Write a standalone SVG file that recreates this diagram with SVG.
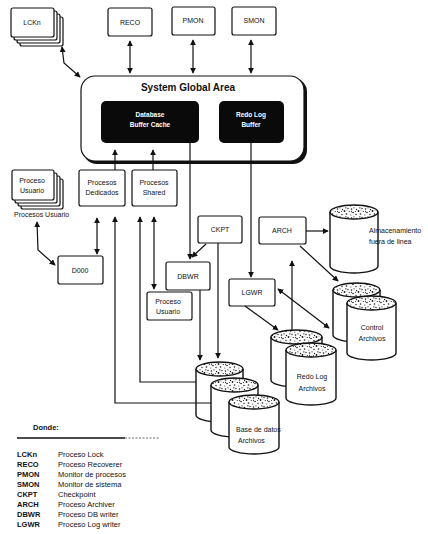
<svg xmlns="http://www.w3.org/2000/svg" width="428" height="534" viewBox="0 0 428 534">
  <defs>
    <style>
      .box { fill: #fff; stroke: #111; stroke-width: 1.2; }
      .shadow { fill: #111; }
      .dark { fill: #0a0a0a; }
      .lbl { font-family: "Liberation Sans", Arial, sans-serif; font-size: 7px; fill: #111; text-anchor: middle; }
      .lft { text-anchor: start; }
      .wlbl { font-family: "Liberation Sans", Arial, sans-serif; font-size: 6.5px; font-weight: bold; fill: #fff; text-anchor: middle; }
      .title { font-family: "Liberation Sans", Arial, sans-serif; font-size: 10px; font-weight: bold; fill: #111; text-anchor: middle; }
      .leg { font-family: "Liberation Sans", Arial, sans-serif; font-size: 7.5px; fill: #111; }
      .legb { font-family: "Liberation Sans", Arial, sans-serif; font-size: 7.5px; font-weight: bold; fill: #111; }
      .wire { fill: none; stroke: #111; stroke-width: 1.2; }
      .cyl { fill: #fff; stroke: #111; stroke-width: 1.4; }
      .top { fill: url(#speckle); stroke: #111; stroke-width: 1.4; }
    </style>
    <marker id="ah" viewBox="0 0 8 8" refX="7" refY="4" markerWidth="6" markerHeight="6" markerUnits="userSpaceOnUse" orient="auto-start-reverse">
      <path d="M0,0 L8,4 L0,8 z" fill="#111"/>
    </marker>
    <!-- stippled fill for the top faces of the disk cylinders -->
    <pattern id="speckle" width="14" height="9" patternUnits="userSpaceOnUse">
      <rect width="14" height="9" fill="#fff"/>
      <g fill="#1a1a1a">
        <circle cx="1.5" cy="2" r="0.8"/>
        <circle cx="4" cy="0.8" r="0.6"/>
        <circle cx="6.5" cy="2.5" r="0.7"/>
        <circle cx="8.5" cy="4" r="0.9"/>
        <circle cx="12" cy="1.5" r="0.7"/>
        <circle cx="3" cy="5.5" r="0.8"/>
        <circle cx="6" cy="7.5" r="0.7"/>
        <circle cx="10.5" cy="7" r="0.8"/>
        <circle cx="13.3" cy="4.5" r="0.6"/>
        <circle cx="5.5" cy="4.5" r="0.5"/>
        <circle cx="0.8" cy="8" r="0.5"/>
        <circle cx="11" cy="3.2" r="0.4"/>
        <rect x="9" y="0.5" width="1.6" height="0.8"/>
        <rect x="1" y="3.8" width="0.8" height="1.4"/>
      </g>
    </pattern>
  </defs>

  <rect width="428" height="534" fill="#fff"/>

  <!-- top row of background processes -->
  <g id="lckn">
    <rect class="box" x="20" y="17" width="43" height="29" rx="2"/>
    <rect class="box" x="17" y="14" width="43" height="29" rx="2"/>
    <rect class="box" x="14" y="11" width="43" height="29" rx="2"/>
    <rect class="box" x="11" y="8" width="43" height="29" rx="2"/>
    <text class="lbl" x="32" y="25">LCKn</text>
  </g>
  <g id="reco">
    <rect class="box" x="108" y="8" width="44" height="28" rx="2"/>
    <text class="lbl" x="130" y="25">RECO</text>
  </g>
  <g id="pmon">
    <rect class="box" x="172" y="7" width="43" height="28" rx="2"/>
    <text class="lbl" x="193" y="23">PMON</text>
  </g>
  <g id="smon">
    <rect class="box" x="232" y="7" width="44" height="28" rx="2"/>
    <text class="lbl" x="254" y="23">SMON</text>
  </g>

  <!-- System Global Area with its two buffers -->
  <g id="sga">
    <rect x="83" y="78" width="224" height="86" rx="14" class="shadow"/>
    <rect class="box" x="81" y="76" width="223" height="85" rx="14"/>
    <text class="title" x="188" y="91">System Global Area</text>
  </g>
  <g id="db-buffer-cache">
    <rect class="dark" x="101" y="101" width="98" height="42" rx="5"/>
    <text class="wlbl" x="150" y="117">Database</text>
    <text class="wlbl" x="150" y="127">Buffer Cache</text>
  </g>
  <g id="redo-log-buffer">
    <rect class="dark" x="219" y="101" width="65" height="42" rx="5"/>
    <text class="wlbl" x="251" y="117">Redo Log</text>
    <text class="wlbl" x="251" y="127">Buffer</text>
  </g>

  <!-- user and server processes -->
  <g id="proceso-usuario-stack">
    <rect class="box" x="21" y="179" width="42" height="30" rx="2"/>
    <rect class="box" x="18" y="176" width="42" height="30" rx="2"/>
    <rect class="box" x="15" y="173" width="42" height="30" rx="2"/>
    <rect class="box" x="12" y="170" width="42" height="30" rx="2"/>
    <text class="lbl" x="32" y="183">Proceso</text>
    <text class="lbl" x="32" y="193">Usuario</text>
    <text class="lbl lft" x="14" y="217">Procesos Usuario</text>
  </g>
  <g id="procesos-dedicados">
    <rect class="box" x="79" y="170" width="46" height="36" rx="2"/>
    <text class="lbl" x="102" y="185">Procesos</text>
    <text class="lbl" x="102" y="195">Dedicados</text>
  </g>
  <g id="procesos-shared">
    <rect class="box" x="132" y="170" width="45" height="36" rx="2"/>
    <text class="lbl" x="154" y="185">Procesos</text>
    <text class="lbl" x="154" y="195">Shared</text>
  </g>
  <g id="d000">
    <rect class="box" x="58" y="256" width="45" height="28" rx="2"/>
    <text class="lbl" x="80" y="273">D000</text>
  </g>
  <g id="ckpt">
    <rect class="box" x="198" y="216" width="44" height="27" rx="2"/>
    <text class="lbl" x="220" y="232">CKPT</text>
  </g>
  <g id="arch">
    <rect class="box" x="259" y="217" width="47" height="27" rx="2"/>
    <text class="lbl" x="282" y="233">ARCH</text>
  </g>
  <g id="dbwr">
    <rect class="box" x="166" y="262" width="44" height="28" rx="2"/>
    <text class="lbl" x="188" y="279">DBWR</text>
  </g>
  <g id="proceso-usuario">
    <rect class="box" x="147" y="292" width="45" height="28" rx="2"/>
    <text class="lbl" x="168" y="304">Proceso</text>
    <text class="lbl" x="168" y="314">Usuario</text>
  </g>
  <g id="lgwr">
    <rect class="box" x="229" y="279" width="46" height="27" rx="2"/>
    <text class="lbl" x="252" y="295">LGWR</text>
  </g>

  <!-- disk files -->
  <g id="almacenamiento">
    <path class="cyl" d="M330,212 L330,266 A24,7 0 0 0 378,266 L378,212"/>
    <ellipse class="top" cx="354" cy="212" rx="24" ry="7"/>
    <text class="lbl lft" x="369" y="233">Almacenamiento</text>
    <text class="lbl lft" x="369" y="244">fuera de linea</text>
  </g>
  <g id="control-archivos">
    <path class="cyl" d="M333,290 L333,335 A23.5,7 0 0 0 380,335 L380,290"/>
    <ellipse class="top" cx="356.5" cy="290" rx="23.5" ry="7"/>
    <path class="cyl" d="M347,303 L347,353 A24.5,7 0 0 0 396,353 L396,303"/>
    <ellipse class="top" cx="371.5" cy="303" rx="24.5" ry="7"/>
    <text class="lbl" x="372" y="330">Control</text>
    <text class="lbl" x="372" y="341">Archivos</text>
  </g>
  <g id="redo-log-archivos">
    <path class="cyl" d="M271,337 L271,380 A25.5,7 0 0 0 322,380 L322,337"/>
    <ellipse class="top" cx="296.5" cy="337" rx="25.5" ry="7"/>
    <path class="cyl" d="M286,350 L286,398 A25,7 0 0 0 336,398 L336,350"/>
    <ellipse class="top" cx="311" cy="350" rx="25" ry="7"/>
    <text class="lbl" x="312" y="379">Redo Log</text>
    <text class="lbl" x="312" y="391">Archivos</text>
  </g>
  <g id="base-de-datos-archivos">
    <path class="cyl" d="M196,369 L196,415 A23.5,7 0 0 0 243,415 L243,369"/>
    <ellipse class="top" cx="219.5" cy="369" rx="23.5" ry="7"/>
    <path class="cyl" d="M211,385 L211,430 A23.5,7 0 0 0 258,430 L258,385"/>
    <ellipse class="top" cx="234.5" cy="385" rx="23.5" ry="7"/>
    <path class="cyl" d="M229,402 L229,447 A25,7 0 0 0 279,447 L279,402"/>
    <ellipse class="top" cx="254" cy="402" rx="25" ry="7"/>
    <text class="lbl lft" x="236" y="432">Base de datos</text>
    <text class="lbl lft" x="238" y="443">Archivos</text>
  </g>

  <!-- connectors -->
  <g id="connectors">
    <path class="wire" d="M62,47 L64,63 L80,77" marker-start="url(#ah)" marker-end="url(#ah)"/>
    <path class="wire" d="M130,41 L130,73" marker-start="url(#ah)" marker-end="url(#ah)"/>
    <path class="wire" d="M193,40 L193,73" marker-start="url(#ah)" marker-end="url(#ah)"/>
    <path class="wire" d="M251,40 L251,73" marker-start="url(#ah)" marker-end="url(#ah)"/>
    <path class="wire" d="M115,170 L115,150" marker-end="url(#ah)"/>
    <path class="wire" d="M153,170 L153,150" marker-end="url(#ah)"/>
    <path class="wire" d="M190,143 L190,259" marker-end="url(#ah)"/>
    <path class="wire" d="M251,143 L251,277" marker-end="url(#ah)"/>
    <path class="wire" d="M37,222 L38,250 L55,265" marker-start="url(#ah)" marker-end="url(#ah)"/>
    <path class="wire" d="M97,218 L97,254" marker-start="url(#ah)" marker-end="url(#ah)"/>
    <path class="wire" d="M211,403 L115,403 L115,217" marker-end="url(#ah)"/>
    <path class="wire" d="M196,382 L140,382 L140,217" marker-end="url(#ah)"/>
    <path class="wire" d="M154,217 L154,289" marker-start="url(#ah)" marker-end="url(#ah)"/>
    <path class="wire" d="M206,244 L192,257" marker-end="url(#ah)"/>
    <path class="wire" d="M218,243 L218,358" marker-end="url(#ah)"/>
    <path class="wire" d="M200,290 L200,360" marker-end="url(#ah)"/>
    <path class="wire" d="M306,231 L328,231" marker-end="url(#ah)"/>
    <path class="wire" d="M300,246 L338,281" marker-end="url(#ah)"/>
    <path class="wire" d="M292,331 L292,261" marker-end="url(#ah)"/>
    <path class="wire" d="M278,289 L329,328" marker-start="url(#ah)" marker-end="url(#ah)"/>
    <path class="wire" d="M245,306 L278,330" marker-end="url(#ah)"/>
  </g>

  <!-- key -->
  <g id="legend">
    <text class="legb" x="33" y="430">Donde:</text>
    <line x1="17" y1="438" x2="125" y2="438" stroke="#111" stroke-width="1.5"/>
    <line x1="125" y1="438" x2="160" y2="438" stroke="#444" stroke-width="0.8" stroke-dasharray="2,1.5"/>
    <text class="legb" x="17" y="457">LCKn</text><text class="leg" x="58" y="457">Proceso Lock</text>
    <text class="legb" x="17" y="467">RECO</text><text class="leg" x="58" y="467">Proceso Recoverer</text>
    <text class="legb" x="17" y="477">PMON</text><text class="leg" x="58" y="477">Monitor de procesos</text>
    <text class="legb" x="17" y="487">SMON</text><text class="leg" x="58" y="487">Monitor de sistema</text>
    <text class="legb" x="17" y="497">CKPT</text><text class="leg" x="58" y="497">Checkpoint</text>
    <text class="legb" x="17" y="507">ARCH</text><text class="leg" x="58" y="507">Proceso Archiver</text>
    <text class="legb" x="17" y="517">DBWR</text><text class="leg" x="58" y="517">Proceso DB writer</text>
    <text class="legb" x="17" y="527">LGWR</text><text class="leg" x="58" y="527">Proceso Log writer</text>
  </g>
</svg>
